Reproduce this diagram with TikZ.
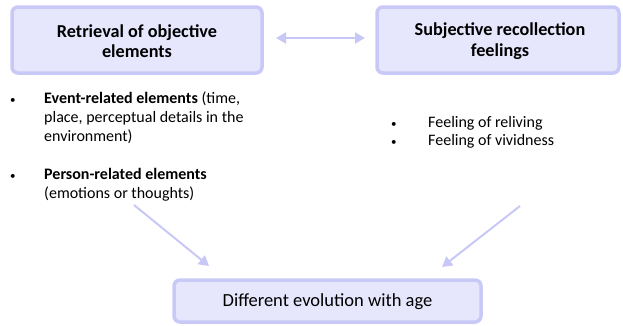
\documentclass[tikz,border=0pt]{standalone}
\usepackage{fontspec}
\setmainfont{Carlito}
\usetikzlibrary{arrows.meta}
\definecolor{boxfill}{HTML}{E6E6FC}
\definecolor{boxline}{HTML}{C9C9F7}
\definecolor{arrowc}{HTML}{C8C8F6}
\begin{document}
\begin{tikzpicture}[x=1pt,y=-1pt,
  box/.style={draw=boxline, fill=boxfill, line width=3.5pt, rounded corners=6pt},
  boxtext/.style={align=center, font=\fontsize{18.2}{20.5}\selectfont\bfseries, inner sep=0pt},
  listtext/.style={anchor=base west, align=left, inner sep=0pt, font=\fontsize{16}{19}\selectfont},
  bul/.style={anchor=base west, inner sep=0pt, font=\fontsize{11}{19}\selectfont},
  arr/.style={draw=arrowc, line width=2pt, -{Triangle[length=10pt,width=11pt]}},
  darr/.style={draw=arrowc, line width=2pt, {Triangle[length=10pt,width=11pt]}-{Triangle[length=10pt,width=11pt]}}
]
\useasboundingbox (0,0) rectangle (623,325);
% boxes
\draw[box] (12,7) rectangle (262,73);
\node[boxtext] (b1) at (137,41) {Retrieval of objective\\elements};
\draw[box] (377,7) rectangle (619,73);
\node[boxtext] (b2) at (500,41) {Subjective recollection\\feelings};
\draw[box] (174,280) rectangle (481,322);
\node[inner sep=0pt, font=\fontsize{18.5}{20}\selectfont] (b3) at (327.5,301.5) {Different evolution with age};
% double arrow
\coordinate (da) at (276,38);
\coordinate (db) at (365,38);
\draw[darr] (da) -- (db);
% left list
\node[bul] (l1b) at (10,103) {•};
\node[listtext] (l1) at (44,141) {\textbf{Event-related elements} (time,\\place, perceptual details in the\\environment)};
\node[bul] (l2b) at (10,179) {•};
\node[listtext] (l2) at (44,198) {\textbf{Person-related elements}\\(emotions or thoughts)};
% right list
\node[bul] (r1b) at (391,127) {•};
\node[listtext] (r1) at (428,127) {Feeling of reliving};
\node[bul] (r2b) at (391,145) {•};
\node[listtext] (r2) at (428,145) {Feeling of vividness};
% diagonal arrows
\coordinate (la) at (134,205);
\coordinate (lt) at (209,266);
\coordinate (ra) at (520,206);
\coordinate (rt) at (442,267);
\draw[arr] (la) -- (lt);
\draw[arr] (ra) -- (rt);
\end{tikzpicture}
\end{document}
